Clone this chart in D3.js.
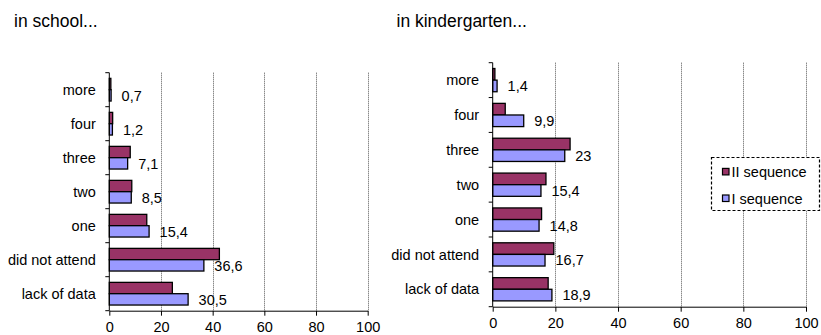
<!DOCTYPE html>
<html>
<head>
<meta charset="utf-8">
<script src="https://cdn.jsdelivr.net/npm/d3@7"></script>
<style>
  html, body { margin: 0; padding: 0; background: #fff; }
  svg { display: block; font-family: "Liberation Sans", Arial, sans-serif; }
</style>
</head>
<body>
<svg id="chart" width="821" height="335"></svg>
<script>
// Number of attended sequences, percentages by category
const categories = ["more", "four", "three", "two", "one", "did not attend", "lack of data"];
const seriesNames = ["II sequence", "I sequence"];
const schoolII = [0.6, 1.3, 8.1, 8.7, 14.5, 42.6, 24.4];
const schoolI = [0.7, 1.2, 7.1, 8.5, 15.4, 36.6, 30.5];
const kinderII = [0.7, 4.0, 24.7, 17.0, 15.6, 19.5, 17.7];
const kinderI = [1.4, 9.9, 23, 15.4, 14.8, 16.7, 18.9];
const xTicks = [0, 20, 40, 60, 80, 100];
const titles = ["in school...", "in kindergarten..."];

const colors = { "II sequence": "#993366", "I sequence": "#9999ff" };

const svg = d3.select("#chart");

function panel(cfg) {
  const g = svg.append("g");

  const x = d3.scaleLinear().domain([0, 100]).range([cfg.x0, cfg.x1]);
  const y = d3.scaleBand().domain(categories).range([cfg.y0, cfg.y1]).padding(0);
  const inner = d3.scaleBand().domain(seriesNames)
    .range([0, y.bandwidth()]).paddingOuter(0.5).paddingInner(0);

  // title
  svg.append("text")
    .attr("x", cfg.titleX).attr("y", 26.5)
    .attr("font-size", "17.5px").attr("fill", "#000")
    .text(cfg.title);

  // dotted vertical gridlines
  g.append("g").selectAll("line")
    .data(xTicks.filter(d => d > 0))
    .join("line")
    .attr("x1", d => Math.round(x(d)) + 0.5).attr("x2", d => Math.round(x(d)) + 0.5)
    .attr("y1", cfg.y0).attr("y2", cfg.y1)
    .attr("stroke", "#555").attr("stroke-width", 1)
    .attr("stroke-dasharray", "1,1");

  // bars
  const rows = categories.map((c, i) => ({ c, vals: [
    { s: "II sequence", v: cfg.II[i] },
    { s: "I sequence", v: cfg.I[i] }
  ] }));

  const rowG = g.append("g").selectAll("g").data(rows).join("g")
    .attr("transform", d => `translate(0,${y(d.c)})`);

  rowG.selectAll("rect").data(d => d.vals).join("rect")
    .attr("x", x(0))
    .attr("y", d => inner(d.s))
    .attr("width", d => x(d.v) - x(0))
    .attr("height", inner.bandwidth())
    .attr("fill", d => colors[d.s])
    .attr("stroke", "#000").attr("stroke-width", 1.3);

  // value labels for I sequence
  rowG.append("text")
    .attr("x", d => x(d.vals[1].v) + 10.5)
    .attr("y", inner("I sequence") + inner.bandwidth() / 2)
    .attr("dy", "0.36em")
    .attr("font-size", "14.5px").attr("fill", "#000")
    .text(d => String(d.vals[1].v).replace(".", ","));

  // x axis
  const xAxis = d3.axisBottom(x).tickValues(xTicks).tickSize(5).tickSizeOuter(0).tickPadding(6);
  const xa = g.append("g").attr("transform", `translate(0,${cfg.y1})`).call(xAxis);
  xa.select(".domain").attr("stroke", "#000");
  xa.selectAll(".tick line").attr("stroke", "#000");
  xa.selectAll(".tick text").attr("font-size", "14.5px").attr("fill", "#000")
    .attr("font-family", "Liberation Sans, Arial, sans-serif");

  // y axis: line, boundary ticks, centered category labels
  const ya = g.append("g");
  ya.append("line")
    .attr("x1", x(0)).attr("x2", x(0))
    .attr("y1", cfg.y0).attr("y2", cfg.y1)
    .attr("stroke", "#000");
  const bounds = categories.map(c => y(c)).concat([cfg.y1]);
  ya.selectAll("line.tk").data(bounds).join("line").attr("class", "tk")
    .attr("x1", x(0) - 4).attr("x2", x(0))
    .attr("y1", d => d).attr("y2", d => d)
    .attr("stroke", "#000");
  ya.selectAll("text").data(categories).join("text")
    .attr("x", x(0) - 13.5)
    .attr("y", d => y(d) + y.bandwidth() / 2)
    .attr("dy", "0.36em")
    .attr("text-anchor", "end")
    .attr("font-size", "14.5px").attr("fill", "#000")
    .text(d => d);

  return { x, y };
}

panel({ title: titles[0], titleX: 14, x0: 109.3, x1: 367.7, y0: 72.7, y1: 310.7, II: schoolII, I: schoolI });
panel({ title: titles[1], titleX: 396.5, x0: 492.7, x1: 806, y0: 62.7, y1: 306.7, II: kinderII, I: kinderI });

// legend
const lg = svg.append("g");
lg.append("rect")
  .attr("x", 711.5).attr("y", 157.5).attr("width", 108).attr("height", 53)
  .attr("fill", "#fff").attr("stroke", "#000").attr("stroke-width", 1.2)
  .attr("stroke-dasharray", "3,2");
const legendY = d3.scalePoint().domain(seriesNames).range([171.7, 198.3]);
const items = lg.selectAll("g.item").data(seriesNames).join("g").attr("class", "item")
  .attr("transform", d => `translate(0,${legendY(d)})`);
items.append("rect")
  .attr("x", 722.5).attr("y", -3.3).attr("width", 6.5).attr("height", 6.5)
  .attr("fill", d => colors[d]).attr("stroke", "#000").attr("stroke-width", 1.2);
items.append("text")
  .attr("x", 731.5).attr("dy", "0.36em")
  .attr("font-size", "14.5px").attr("fill", "#000")
  .text(d => d);
</script>
</body>
</html>
